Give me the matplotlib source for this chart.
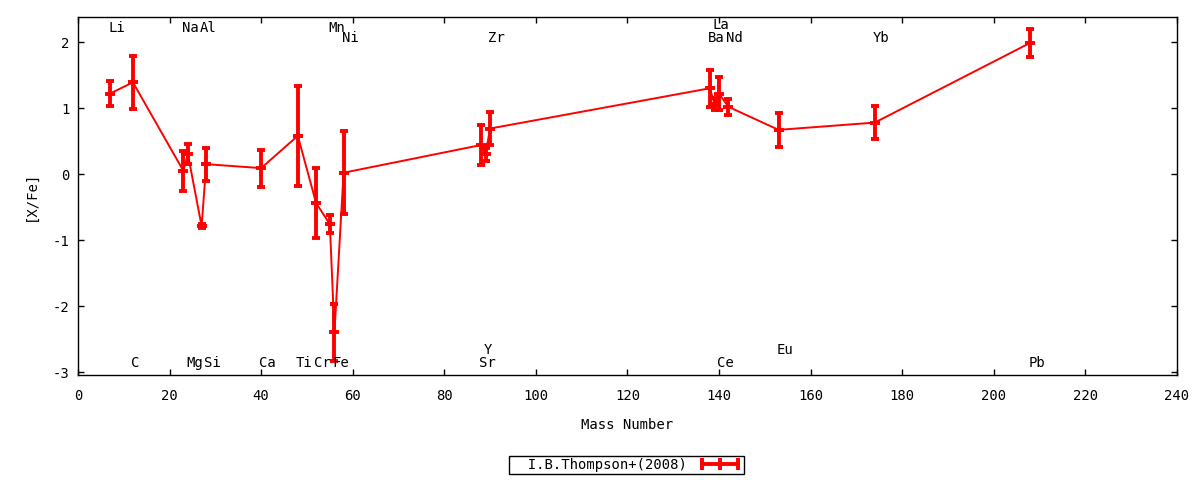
import matplotlib
matplotlib.use('Agg')
import matplotlib.pyplot as plt
from matplotlib.lines import Line2D

plt.rcParams['font.family'] = ['DejaVu Sans Mono']
plt.rcParams['font.size'] = 10
plt.rcParams['axes.unicode_minus'] = False

# element data
elements = ['Li', 'C', 'Na', 'Mg', 'Al', 'Si', 'Ca', 'Ti', 'Cr', 'Mn', 'Fe', 'Ni',
            'Sr', 'Y', 'Zr', 'Ba', 'La', 'Ce', 'Nd', 'Eu', 'Yb', 'Pb']
mass = [7, 12, 23, 24, 27, 28, 40, 48, 52, 55, 56, 58,
        88, 89, 90, 138, 139, 140, 142, 153, 174, 208]
x_fe = [1.22, 1.39, 0.05, 0.30, -0.79, 0.15, 0.09, 0.58, -0.44, -0.76, -2.40, 0.02,
        0.44, 0.30, 0.69, 1.30, 1.06, 1.22, 1.02, 0.67, 0.78, 1.99]
err = [0.19, 0.40, 0.30, 0.15, 0.03, 0.25, 0.28, 0.76, 0.53, 0.14, 0.43, 0.63,
       0.30, 0.10, 0.25, 0.28, 0.09, 0.25, 0.12, 0.26, 0.25, 0.21]

# which row each element label sits in
label_row = ['top', 'bot', 'top', 'bot', 'top', 'bot', 'bot', 'bot', 'bot', 'top', 'bot', 'top2',
             'bot', 'bot2', 'top2', 'top2', 'top0', 'bot', 'top2', 'bot2', 'top2', 'bot']
row_y = {'top0': 2.265, 'top': 2.21, 'top2': 2.055, 'bot': -2.87, 'bot2': -2.66}

fig = plt.figure(figsize=(12, 4.8), dpi=100)
ax = fig.add_axes([0.065, 0.21875, 0.91583, 0.74583])

red = '#ff0000'
ax.plot(mass, x_fe, color=red, lw=1.4, zorder=2)
ax.errorbar(mass, x_fe, yerr=err, fmt='none', ecolor=red, elinewidth=2.8,
            capsize=3.2, capthick=2.8, zorder=3)
ax.plot(mass, x_fe, ls='none', marker='_', ms=6.5, mew=2.8, color=red, zorder=4)

for el, m, row in zip(elements, mass, label_row):
    ax.annotate(el, (m, row_y[row]), xytext=(-1.3, 0), textcoords='offset points',
                ha='left', va='center', fontsize=10)

ax.set_xlim(0, 240)
ax.set_ylim(-3.045, 2.38)
ax.set_xticks(range(0, 241, 20))
ax.set_yticks(range(-3, 3))
ax.tick_params(direction='in', length=4, width=1, top=True, right=True)
ax.tick_params(axis='x', pad=10)
ax.tick_params(axis='y', pad=6)
for s in ax.spines.values():
    s.set_linewidth(1)

ax.set_xlabel('Mass Number', labelpad=11)
ax.set_ylabel('[X/Fe]', labelpad=11)

handle = Line2D([], [], color=red, lw=2.8, marker='|', ms=8, mew=2.8)
leg = fig.legend([handle], ['  I.B.Thompson+(2008)'], loc='center',
                 bbox_to_anchor=(0.522, 0.032), numpoints=3, markerfirst=False,
                 fancybox=False, edgecolor='black', framealpha=1,
                 borderpad=0.15, handlelength=3.2, handletextpad=0.8,
                 borderaxespad=0)
leg.get_frame().set_linewidth(1)

fig.savefig('out.png', dpi=100)
